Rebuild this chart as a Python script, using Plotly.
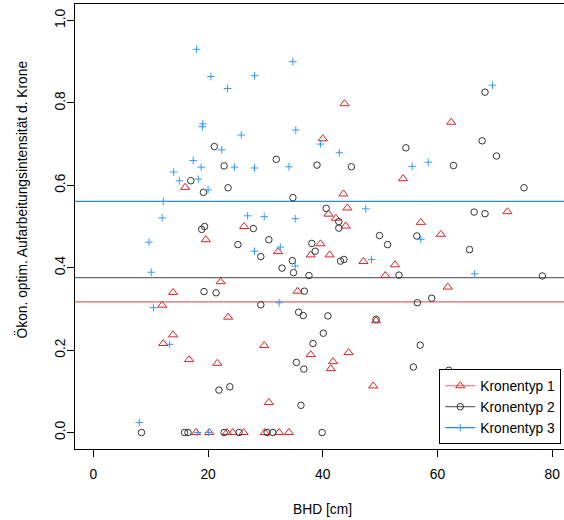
import plotly.graph_objects as go

# Kronentyp 1: BHD [cm] and economically optimal processing intensity of the crown
k1_bhd = [16.0, 26.3, 19.6, 32.2, 39.6, 37.9, 22.2, 13.9, 35.6, 12.0,
          40.0, 43.8, 62.4, 54.0, 43.6, 44.3, 41.0, 42.3, 44.0, 57.1,
          72.2, 60.6, 41.2, 47.1, 52.6, 50.9, 61.8, 23.5, 13.9, 12.2,
          29.8, 16.7, 21.6, 37.9, 30.6, 44.5, 41.8, 41.4, 49.3, 48.8,
          17.9, 20.2, 23.3, 24.3, 26.2, 29.9, 32.4, 34.1]
k1_int = [0.595, 0.500, 0.468, 0.439, 0.458, 0.431, 0.366, 0.340, 0.343, 0.309,
          0.713, 0.798, 0.753, 0.616, 0.579, 0.545, 0.530, 0.520, 0.501, 0.510,
          0.536, 0.481, 0.431, 0.415, 0.407, 0.381, 0.353, 0.280, 0.237, 0.216,
          0.211, 0.177, 0.168, 0.189, 0.073, 0.194, 0.172, 0.155, 0.271, 0.113,
          0.0, 0.0, 0.0, 0.0, 0.0, 0.0, 0.0, 0.0]

# Kronentyp 2
k2_bhd = [21.1, 31.9, 68.3, 54.5, 67.8, 70.3, 22.8, 39.0, 17.0, 19.2,
          23.5, 34.8, 40.6, 19.4, 18.9, 27.9, 30.6, 25.2, 38.1, 38.7,
          29.2, 34.7, 32.9, 34.9, 37.6, 19.3, 21.4, 36.8, 29.2, 35.8,
          36.6, 45.0, 62.8, 75.1, 42.8, 42.8, 66.4, 68.3, 49.9, 56.4,
          51.3, 65.6, 43.1, 43.7, 53.3, 78.3, 59.0, 56.5, 40.9, 40.1,
          38.3, 35.4, 36.7, 21.9, 23.8, 36.2, 57.0, 55.8, 62.0, 49.3,
          8.4, 15.9, 16.5, 22.8, 25.4, 30.3, 31.3, 39.9]
k2_int = [0.694, 0.663, 0.826, 0.691, 0.708, 0.671, 0.647, 0.649, 0.611, 0.583,
          0.594, 0.570, 0.544, 0.500, 0.493, 0.495, 0.468, 0.456, 0.459, 0.440,
          0.427, 0.417, 0.399, 0.388, 0.381, 0.342, 0.339, 0.343, 0.310, 0.292,
          0.284, 0.645, 0.648, 0.594, 0.512, 0.496, 0.535, 0.531, 0.478, 0.477,
          0.456, 0.444, 0.416, 0.420, 0.382, 0.380, 0.326, 0.315, 0.283, 0.241,
          0.216, 0.170, 0.154, 0.103, 0.111, 0.066, 0.212, 0.159, 0.151, 0.275,
          0.0, 0.0, 0.0, 0.0, 0.0, 0.0, 0.0, 0.0]

# Kronentyp 3
k3_bhd = [18.0, 20.5, 28.1, 34.8, 23.4, 19.1, 19.0, 25.8, 35.3, 22.4,
          39.6, 42.9, 69.6, 17.4, 18.8, 14.0, 15.0, 18.3, 20.0, 24.6,
          28.1, 34.1, 12.2, 12.0, 26.9, 29.8, 35.2, 9.7, 28.1, 32.6,
          35.2, 10.1, 10.5, 32.4, 55.6, 58.4, 47.5, 57.1, 48.5, 66.5,
          13.3, 8.0, 18.2, 20.1]
k3_int = [0.930, 0.864, 0.866, 0.900, 0.835, 0.749, 0.742, 0.722, 0.734, 0.686,
          0.700, 0.679, 0.843, 0.660, 0.644, 0.632, 0.611, 0.615, 0.589, 0.644,
          0.642, 0.645, 0.561, 0.521, 0.526, 0.524, 0.519, 0.462, 0.440, 0.450,
          0.404, 0.389, 0.303, 0.315, 0.646, 0.656, 0.543, 0.469, 0.420, 0.385,
          0.214, 0.024, 0.0, 0.0]

group_names = ["Kronentyp 1", "Kronentyp 2", "Kronentyp 3"]
group_levels = [0.317, 0.376, 0.561]   # horizontal reference level per Kronentyp

marker_colors = ["#DD2222", "#333333", "#3399FF"]
line_colors = ["#E06666", "#6A6A6A", "#2A88E8"]
symbols = ["triangle-up-open", "circle-open", "cross-thin-open"]
sizes = [8, 6.5, 5.4]

fig = go.Figure()

series = [(k1_bhd, k1_int), (k2_bhd, k2_int), (k3_bhd, k3_int)]
for (xs, ys), name, mc, sym, sz in zip(series, group_names, marker_colors, symbols, sizes):
    fig.add_trace(go.Scatter(
        x=xs, y=ys, mode="markers", name=name, showlegend=False,
        marker=dict(symbol=sym, size=sz, color=mc, line=dict(color=mc, width=1)),
        hoverinfo="x+y+name",
    ))

# legend entries: line + symbol, as in the key
for name, mc, lc, sym, sz in zip(group_names, marker_colors, line_colors, symbols, sizes):
    fig.add_trace(go.Scatter(
        x=[None], y=[None], mode="lines+markers", name=name,
        line=dict(color=lc, width=1.2),
        marker=dict(symbol=sym, size=sz, color=mc, line=dict(color=mc, width=1)),
    ))

for level, lc in zip(group_levels, line_colors):
    fig.add_shape(type="line", xref="paper", x0=0, x1=1, yref="y", y0=level, y1=level,
                  line=dict(color=lc, width=1.2), layer="below")

font_family = "Liberation Sans, Arial, Helvetica, sans-serif"

fig.update_layout(
    width=564, height=520,
    margin=dict(l=75, r=0, t=4, b=71),
    paper_bgcolor="white", plot_bgcolor="white",
    font=dict(family=font_family, size=13.8, color="black"),
    showlegend=True,
    legend=dict(
        x=0.745, y=0.0106, xanchor="left", yanchor="bottom",
        bordercolor="black", borderwidth=1, bgcolor="white",
        font=dict(family=font_family, size=13.8, color="black"),
        tracegroupgap=0,
    ),
    xaxis=dict(
        range=[-3.2, 82.07], tickvals=[0, 20, 40, 60, 80],
        ticks="outside", ticklen=7, tickcolor="black", tickwidth=1,
        ticklabelstandoff=5,
        showline=True, linecolor="black", linewidth=1, mirror=True,
        showgrid=False, zeroline=False,
    ),
    yaxis=dict(
        range=[-0.04, 1.04], tickvals=[0, 0.2, 0.4, 0.6, 0.8, 1.0], tickformat=".1f",
        tickangle=-90,
        ticks="outside", ticklen=7, tickcolor="black", tickwidth=1,
        ticklabelstandoff=-4,
        showline=True, linecolor="black", linewidth=1,
        showgrid=False, zeroline=False,
    ),
    annotations=[
        dict(text="BHD [cm]", xref="paper", yref="paper", x=0.5065, y=-0.137,
             xanchor="center", yanchor="middle", showarrow=False,
             font=dict(family=font_family, size=13.8, color="black")),
        dict(text="Ökon. optim. Aufarbeitungsintensität d. Krone", xref="paper", yref="paper",
             x=-0.109, y=0.56, xanchor="center", yanchor="middle", textangle=-90,
             showarrow=False, font=dict(family=font_family, size=13.8, color="black")),
    ],
)

fig.write_html("out.html")
